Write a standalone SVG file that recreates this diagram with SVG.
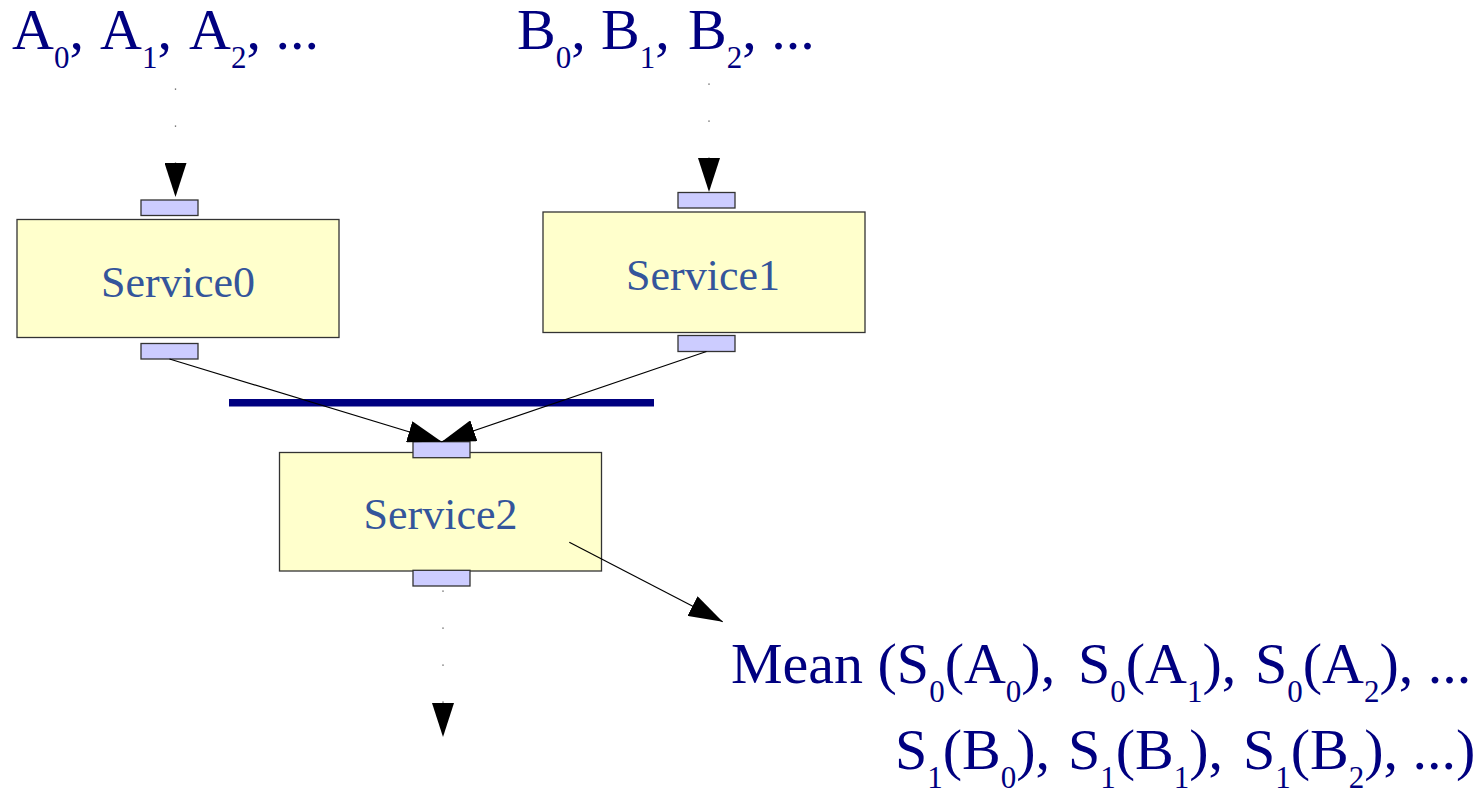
<svg xmlns="http://www.w3.org/2000/svg" width="1481" height="788" viewBox="0 0 1481 788">
  <style>
    .box { fill: #ffffcc; stroke: #333333; stroke-width: 1.3; }
    .port { fill: #ccccff; stroke: #333333; stroke-width: 1.3; }
    .svc { font-family: "Liberation Serif", "Times New Roman", serif; font-size: 44px; fill: #34559b; text-anchor: middle; }
    .seq { font-family: "Liberation Serif", "Times New Roman", serif; font-size: 58px; fill: #000080; }
    .sb { font-size: 31px; }
    .flow { fill: none; stroke: #000000; stroke-width: 1.2; marker-end: url(#head); }
    .dots { fill: none; stroke: #555555; stroke-width: 1.3; stroke-dasharray: 1.3 35.7; marker-end: url(#head); }
  </style>
  <defs>
    <marker id="head" markerUnits="userSpaceOnUse" markerWidth="34" markerHeight="22" refX="34" refY="11" orient="auto" viewBox="0 0 34 22">
      <path d="M0,0 L34,11 L0,22 Z" fill="#000000"/>
    </marker>
  </defs>

  <!-- input sequences -->
  <text id="seqA" class="seq" y="49"><tspan x="12">A</tspan><tspan class="sb" dy="19">0</tspan><tspan dy="-19">, </tspan><tspan x="100">A</tspan><tspan class="sb" dy="19">1</tspan><tspan dy="-19">, </tspan><tspan x="189">A</tspan><tspan class="sb" dy="19">2</tspan><tspan dy="-19">, ...</tspan></text>
  <text id="seqB" class="seq" y="49"><tspan x="517">B</tspan><tspan class="sb" dy="19">0</tspan><tspan dy="-19">, </tspan><tspan x="601">B</tspan><tspan class="sb" dy="19">1</tspan><tspan dy="-19">, </tspan><tspan x="688">B</tspan><tspan class="sb" dy="19">2</tspan><tspan dy="-19">, ...</tspan></text>

  <!-- synchronisation bar -->
  <rect id="sync" x="229" y="399" width="425" height="7.5" fill="#000080"/>

  <g id="service0">
    <rect class="port" x="141" y="200" width="57" height="15.5"/>
    <rect class="box" x="17" y="219.5" width="322" height="118"/>
    <rect class="port" x="141" y="343.5" width="57" height="15.5"/>
    <text class="svc" x="178" y="297">Service0</text>
  </g>

  <g id="service1">
    <rect class="port" x="678" y="192.5" width="57" height="15.5"/>
    <rect class="box" x="543" y="212" width="322" height="120.5"/>
    <rect class="port" x="678" y="335.5" width="57" height="16"/>
    <text class="svc" x="703" y="290">Service1</text>
  </g>

  <g id="service2">
    <rect class="box" x="279.5" y="452.5" width="322" height="118.5"/>
    <rect class="port" x="413" y="441.7" width="57" height="16"/>
    <rect class="port" x="413" y="570.3" width="57" height="15.7"/>
    <text class="svc" x="440.5" y="529">Service2</text>
  </g>

  <g id="connectors">
    <line class="dots" x1="175.5" y1="88.5" x2="175.5" y2="197"/>
    <line class="dots" x1="709" y1="83.5" x2="709" y2="192"/>
    <line class="dots" x1="443" y1="590.5" x2="443" y2="737"/>
    <line class="flow" x1="169.5" y1="359" x2="441.7" y2="441.7"/>
    <line class="flow" x1="706.5" y1="351.5" x2="441.7" y2="441.7"/>
    <line class="flow" x1="569.3" y1="542.3" x2="722.7" y2="621.7"/>
  </g>

  <!-- result -->
  <text id="mean1" class="seq" y="683"><tspan x="731">Mean (S</tspan><tspan class="sb" dy="19">0</tspan><tspan dy="-19">(A</tspan><tspan class="sb" dy="19">0</tspan><tspan dy="-19">), </tspan><tspan x="1078">S</tspan><tspan class="sb" dy="19">0</tspan><tspan dy="-19">(A</tspan><tspan class="sb" dy="19">1</tspan><tspan dy="-19">), </tspan><tspan x="1255">S</tspan><tspan class="sb" dy="19">0</tspan><tspan dy="-19">(A</tspan><tspan class="sb" dy="19">2</tspan><tspan dy="-19">), ...</tspan></text>
  <text id="mean2" class="seq" y="769"><tspan x="895">S</tspan><tspan class="sb" dy="19">1</tspan><tspan dy="-19">(B</tspan><tspan class="sb" dy="19">0</tspan><tspan dy="-19">), </tspan><tspan x="1068">S</tspan><tspan class="sb" dy="19">1</tspan><tspan dy="-19">(B</tspan><tspan class="sb" dy="19">1</tspan><tspan dy="-19">), </tspan><tspan x="1243">S</tspan><tspan class="sb" dy="19">1</tspan><tspan dy="-19">(B</tspan><tspan class="sb" dy="19">2</tspan><tspan dy="-19">), ...)</tspan></text>
</svg>
